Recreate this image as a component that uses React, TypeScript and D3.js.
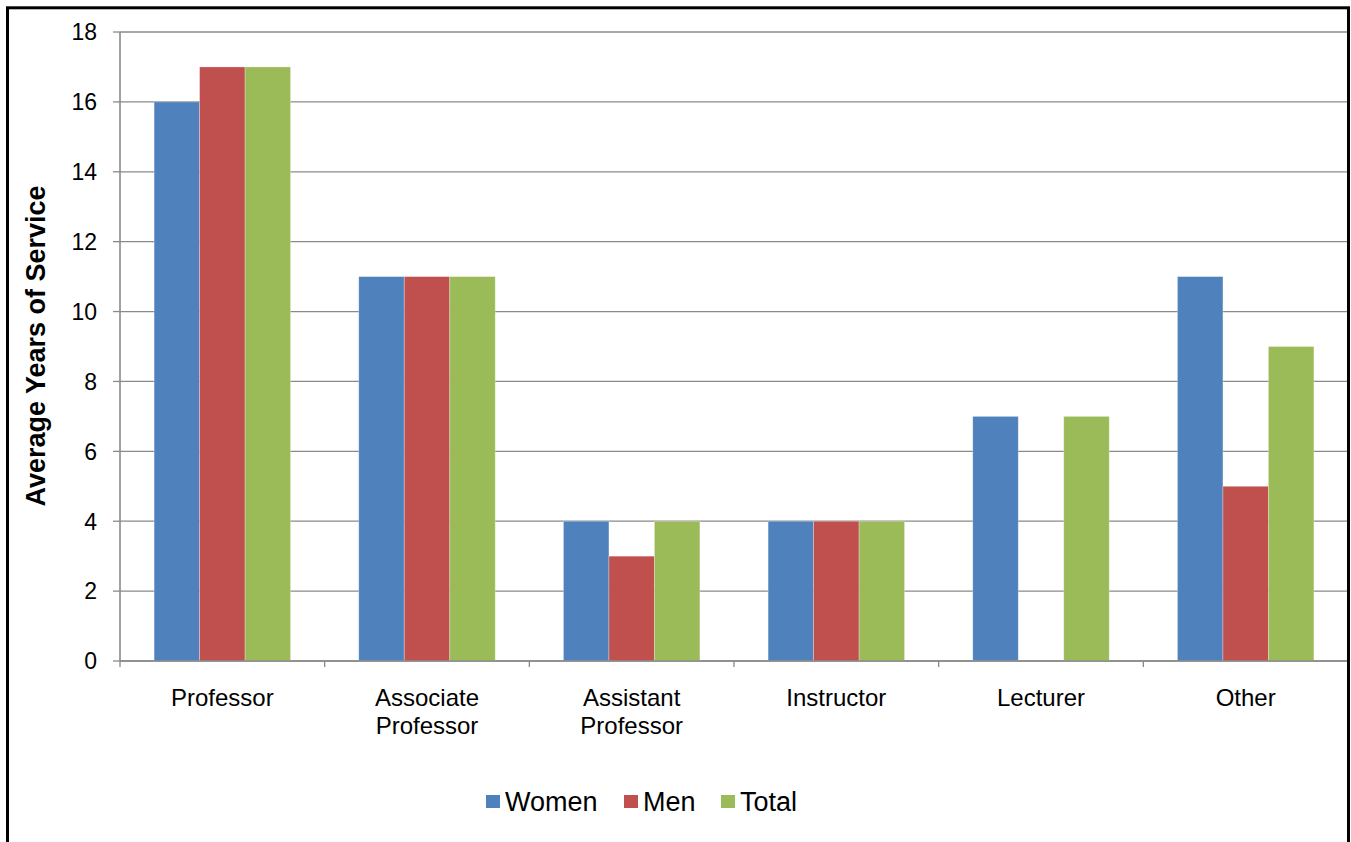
import React from "react";
import * as d3 from "d3";

const categories: string[][] = [
  ["Professor"],
  ["Associate", "Professor"],
  ["Assistant", "Professor"],
  ["Instructor"],
  ["Lecturer"],
  ["Other"],
];
const seriesNames = ["Women", "Men", "Total"];
const women = [16, 11, 4, 4, 7, 11];
const men = [17, 11, 3, 4, 0, 5];
const total = [17, 11, 4, 4, 7, 9];
const seriesValues = [women, men, total];
const colors = ["#4F81BD", "#C0504D", "#9BBB59"];
const yTicks = [0, 2, 4, 6, 8, 10, 12, 14, 16, 18];
const yTitle = "Average Years of Service";

const W = 1351;
const H = 842;
const FONT = "'Liberation Sans', Arial, sans-serif";

export default function App() {
  const left = 120;
  const right = 1348;
  const top = 32;
  const bottom = 661;
  const keys = categories.map((c) => c.join(" "));
  const x = d3.scaleBand<string>().domain(keys).range([left, right]).padding(0);
  const bw = x.bandwidth();
  const gap = (bw * 0.75) / 4.5;
  const xi = d3.scaleBand<string>().domain(seriesNames).range([gap, bw - gap]).padding(0);
  const y = d3.scaleLinear().domain([0, 18]).range([bottom, top]);
  const grid = "#8a8a8a";

  const boundaries = keys.map((k) => x(k) as number).concat([right]);

  const legendItems = [
    { sq: 486, tx: 505 },
    { sq: 624, tx: 643 },
    { sq: 721, tx: 740 },
  ];

  return (
    <svg
      width={W}
      height={H}
      style={{ position: "absolute", left: 0, top: 0, background: "#fff" }}
      fontFamily={FONT}
    >
      <rect x={0} y={0} width={W} height={H} fill="#fff" />
      {yTicks.map((t) => (
        <line key={"g" + t} x1={left} x2={right} y1={y(t)} y2={y(t)} stroke={grid} strokeWidth={1.3} />
      ))}
      {yTicks.map((t) => (
        <line key={"tm" + t} x1={113} x2={left} y1={y(t)} y2={y(t)} stroke={grid} strokeWidth={1.3} />
      ))}
      {yTicks.map((t) => (
        <text key={"tl" + t} x={97} y={y(t)} dy="0.36em" textAnchor="end" fontSize={23} fill="#000">
          {t}
        </text>
      ))}
      {seriesValues.map((vals, si) =>
        vals.map((v, ci) =>
          v > 0 ? (
            <rect
              key={`b${si}-${ci}`}
              x={(x(keys[ci]) as number) + (xi(seriesNames[si]) as number)}
              y={y(v)}
              width={xi.bandwidth()}
              height={y(0) - y(v)}
              fill={colors[si]}
              stroke="rgba(255,255,255,0.35)"
              strokeWidth={0.8}
            />
          ) : null
        )
      )}
      <line x1={left} x2={left} y1={top} y2={bottom} stroke={grid} strokeWidth={1.6} />
      <line x1={left} x2={right} y1={bottom} y2={bottom} stroke={grid} strokeWidth={1.6} />
      {boundaries.map((b, i) => (
        <line key={"xt" + i} x1={b} x2={b} y1={bottom} y2={bottom + 6} stroke={grid} strokeWidth={1.3} />
      ))}
      {categories.map((lines, ci) => (
        <text
          key={"c" + ci}
          x={(x(keys[ci]) as number) + bw / 2}
          y={706}
          textAnchor="middle"
          fontSize={24}
          fill="#000"
        >
          {lines.map((l, li) => (
            <tspan key={li} x={(x(keys[ci]) as number) + bw / 2} dy={li === 0 ? 0 : 28}>
              {l}
            </tspan>
          ))}
        </text>
      ))}
      <text
        transform={`translate(45,346) rotate(-90)`}
        textAnchor="middle"
        fontSize={27}
        fontWeight="bold"
        fill="#000"
      >
        {yTitle}
      </text>
      {seriesNames.map((s, i) => (
        <g key={"l" + s}>
          <rect x={legendItems[i].sq} y={795} width={14} height={13} fill={colors[i]} />
          <text x={legendItems[i].tx} y={811} fontSize={27} fill="#000">
            {s}
          </text>
        </g>
      ))}
      <rect x={7.5} y={7.8} width={1341} height={900} fill="none" stroke="#000" strokeWidth={3} />
    </svg>
  );
}
